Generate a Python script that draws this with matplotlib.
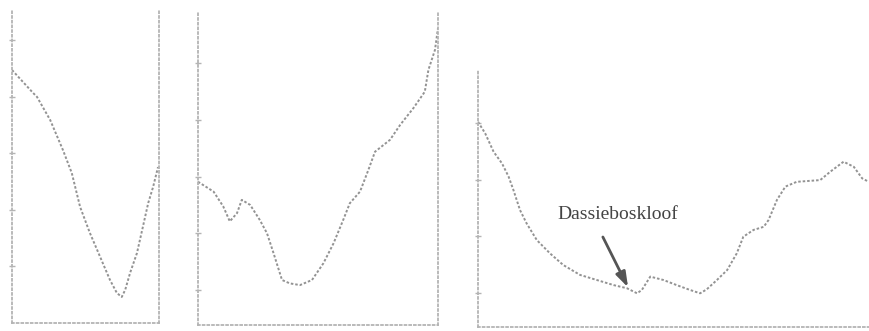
import numpy as np
import matplotlib.pyplot as plt

# ==========================
# Profile data (distance in km, elevation in m)
# ==========================

dist_a = [0.00, 0.43, 0.51, 0.78, 1.04, 1.22, 1.39, 1.59, 1.80, 2.00,
          2.14, 2.24, 2.31, 2.41, 2.55, 2.67, 2.78, 2.88, 2.98]
elev_a = [894, 813, 799, 717, 611, 530, 410, 318, 233, 152,
          106, 92, 117, 177, 247, 339, 424, 481, 551]

dist_b = [0.00, 0.26, 0.42, 0.53, 0.65, 0.73, 0.87, 1.03, 1.15, 1.26,
          1.40, 1.53, 1.70, 1.90, 2.09, 2.26, 2.42, 2.53, 2.70, 2.84,
          2.95, 3.20, 3.37, 3.59, 3.78, 3.84, 3.95, 4.00]
elev_b = [506, 471, 419, 366, 395, 442, 424, 371, 324, 253,
          159, 147, 141, 159, 218, 289, 371, 430, 471, 548,
          612, 654, 707, 766, 824, 901, 972, 1049]

dist_c = [0.00, 0.12, 0.26, 0.40, 0.51, 0.59, 0.70, 0.81, 0.98, 1.20,
          1.42, 1.70, 1.98, 2.26, 2.48, 2.65, 2.73, 2.87, 3.09, 3.31,
          3.53, 3.70, 3.81, 3.98, 4.15, 4.31, 4.42, 4.59, 4.76, 4.84,
          4.98, 5.12, 5.31, 5.70, 5.87, 6.09, 6.26, 6.40, 6.51]
elev_c = [725, 684, 619, 578, 531, 484, 413, 366, 307, 260,
          219, 184, 166, 148, 137, 119, 131, 178, 166, 148,
          131, 119, 133, 166, 201, 260, 319, 343, 354, 378,
          449, 496, 513, 519, 549, 584, 566, 525, 513]

label_text = "Dassieboskloof"
label_at = (2.32, 396)
arrow_from = (2.08, 318)
arrow_to = (2.50, 140)

LINE_COLOR = "#939393"
AXIS_COLOR = "#b4b4b4"
LINE_DOTS = (0, (1.3, 1.0))
AXIS_DOTS = (0, (1.0, 1.6))

fig = plt.figure(figsize=(8.7, 3.31), dpi=100)

W, H = 870.0, 331.0

def make_axes(left, right, top, bottom):
    return fig.add_axes([left / W, (H - bottom) / H, (right - left) / W, (bottom - top) / H])

def style_axes(ax, xlim, ylim, yticks, right_spine):
    ax.set_xlim(*xlim)
    ax.set_ylim(*ylim)
    ax.set_facecolor("none")
    for side in ["top", "right", "left", "bottom"]:
        sp = ax.spines[side]
        sp.set_color(AXIS_COLOR)
        sp.set_linestyle(AXIS_DOTS)
        sp.set_linewidth(1.3)
    ax.spines["top"].set_visible(False)
    ax.spines["right"].set_visible(right_spine)
    ax.set_xticks([])
    ax.set_yticks(yticks)
    ax.set_yticklabels([])
    ax.tick_params(axis="y", direction="inout", length=4, width=1.0, color=AXIS_COLOR)

ax1 = make_axes(12, 159, 10, 323)
ax1.plot(dist_a, elev_a, color=LINE_COLOR, lw=1.4, ls=LINE_DOTS)
style_axes(ax1, (0, 3.0), (0, 1106), np.arange(200, 1100, 200), True)

ax2 = make_axes(198, 438, 13, 325)
ax2.plot(dist_b, elev_b, color=LINE_COLOR, lw=1.4, ls=LINE_DOTS)
style_axes(ax2, (0, 4.0), (0, 1102), np.arange(124, 1000, 200), True)

ax3 = make_axes(478, 870, 70, 327)
ax3.plot(dist_c, elev_c, color=LINE_COLOR, lw=1.4, ls=LINE_DOTS)
style_axes(ax3, (0, 6.53), (0, 908), np.arange(121, 900, 200), False)

ax3.text(label_at[0], label_at[1], label_text, ha="center", va="center",
         fontsize=14, family="Liberation Serif", color="#444444")
ax3.annotate("", xy=arrow_to, xytext=arrow_from,
             arrowprops=dict(arrowstyle="-|>,head_length=0.9,head_width=0.3",
                             color="#555555", lw=2.0, shrinkA=0, shrinkB=0))

fig.savefig("out.png", dpi=100)
